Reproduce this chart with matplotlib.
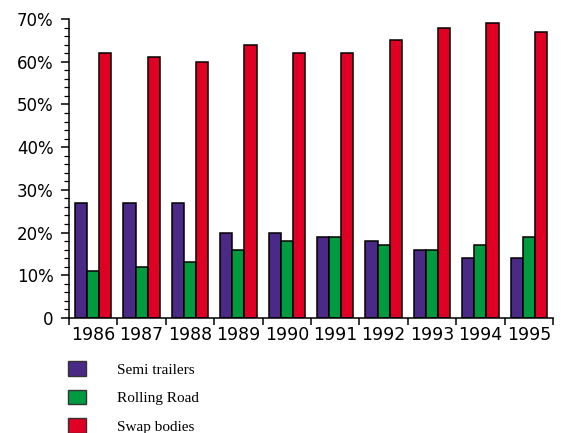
import matplotlib.pyplot as plt
import numpy as np
from matplotlib.ticker import FixedLocator, MultipleLocator, FuncFormatter

years = ['1986', '1987', '1988', '1989', '1990', '1991', '1992', '1993', '1994', '1995']
semi_trailers = [27, 27, 27, 20, 20, 19, 18, 16, 14, 14]
rolling_road = [11, 12, 13, 16, 18, 19, 17, 16, 17, 19]
swap_bodies = [62, 61, 60, 64, 62, 62, 65, 68, 69, 67]

series = [
	('Semi trailers', semi_trailers, '#4a2a86'),
	('Rolling Road', rolling_road, '#009b3e'),
	('Swap bodies', swap_bodies, '#e00024'),
]

fig = plt.figure(figsize=(5.64, 4.33), dpi=100)
ax = fig.add_axes([69 / 564, 1 - 318 / 433, (553 - 69) / 564, (318 - 19) / 433])

idx = np.arange(len(years))
width = 0.25
for k, (name, values, color) in enumerate(series):
	ax.bar(idx + 0.25 + k * width, values, width=width, color=color,
		edgecolor='black', linewidth=1.1, label=name)

ax.set_xlim(0, len(years))
ax.set_ylim(0, 70)

for side in ('top', 'right'):
	ax.spines[side].set_visible(False)
for side in ('left', 'bottom'):
	ax.spines[side].set_linewidth(1.1)

# group boundaries carry the tick marks, group centres carry the year labels
ax.xaxis.set_major_locator(FixedLocator(np.arange(len(years) + 1)))
ax.xaxis.set_major_formatter(FuncFormatter(lambda v, p: ''))
ax.xaxis.set_minor_locator(FixedLocator(idx + 0.5))
ax.set_xticklabels(years, minor=True)
ax.tick_params(axis='x', which='major', direction='out', length=5, width=1.1)
ax.tick_params(axis='x', which='minor', length=0, pad=6, labelsize=12.5)

ax.yaxis.set_major_locator(MultipleLocator(10))
ax.yaxis.set_minor_locator(MultipleLocator(2))
ax.yaxis.set_major_formatter(FuncFormatter(lambda v, p: '0' if v == 0 else '%d%%' % v))
ax.tick_params(axis='y', which='major', direction='out', length=6, width=1.1, pad=5, labelsize=12)
ax.tick_params(axis='y', which='minor', direction='out', length=3.5, width=0.9)

for lbl in ax.get_xticklabels(minor=True) + ax.get_yticklabels():
	lbl.set_fontfamily('DejaVu Sans')

leg = fig.legend(loc='upper left', bbox_to_anchor=(68 / 564, 1 - 361 / 433),
	frameon=False, borderpad=0, borderaxespad=0,
	handlelength=1.2, handleheight=1.1, handletextpad=2.0, labelspacing=0.85,
	prop={'family': 'Liberation Serif', 'size': 11})
for h in leg.legend_handles:
	h.set_edgecolor('#333333')
	h.set_linewidth(1.0)

fig.savefig('out.png', dpi=100)
